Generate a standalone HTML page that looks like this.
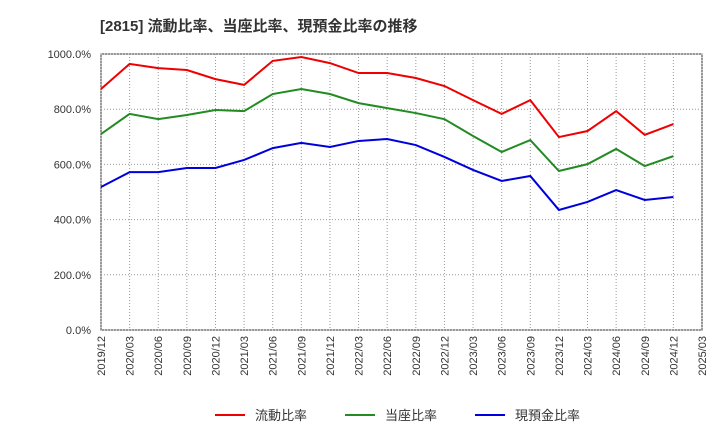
<!DOCTYPE html>
<html><head><meta charset="utf-8"><style>
body{margin:0;background:#fff;font-family:"Liberation Sans","Noto Sans CJK JP",sans-serif;}
</style></head><body>
<svg id="chart" width="720" height="440" xmlns="http://www.w3.org/2000/svg" font-family="Liberation Sans, Noto Sans CJK JP, sans-serif">
<text x="100" y="31" font-size="15" font-weight="bold" fill="#333">[2815]  流動比率、当座比率、現預金比率の推移</text>
<g id="grid"></g><g id="axes"></g><g id="series"></g><g id="legend"></g>
</svg>
<script>
const categories=["2019/12","2020/03","2020/06","2020/09","2020/12","2021/03","2021/06","2021/09","2021/12","2022/03","2022/06","2022/09","2022/12","2023/03","2023/06","2023/09","2023/12","2024/03","2024/06","2024/09","2024/12","2025/03"];
const currentRatio=[873,964,949,942,909,888,975,989,967,931,931,913,884,833,783,833,699,721,793,707,746];
const quickRatio=[710,783,764,779,797,793,855,873,855,822,804,786,764,703,645,688,576,601,656,594,630];
const cashRatio=[518,572,572,587,587,616,659,678,663,685,692,670,627,580,540,558,435,464,507,471,482];
const yTicks=[0,200,400,600,800,1000];
const yTickLabels=["0.0%","200.0%","400.0%","600.0%","800.0%","1000.0%"];
const seriesNames=["流動比率","当座比率","現預金比率"];
const L=101,R=702,T=54,B=330,NS="http://www.w3.org/2000/svg";
const x=i=>L+i*(R-L)/(categories.length-1);
const y=v=>B-(v/1000)*(B-T);
function mk(tag,attrs,parent){const e=document.createElementNS(NS,tag);for(const k in attrs)e.setAttribute(k,attrs[k]);document.getElementById(parent).appendChild(e);return e;}
mk('rect',{x:L,y:T,width:R-L,height:B-T,fill:'#fff',stroke:'#333'},'grid');
categories.forEach((c,i)=>{
 const g=mk('line',{x1:x(i),x2:x(i),y1:T,y2:B,stroke:'#999','stroke-dasharray':'1,2'},'grid');
 
 
 const t=mk('text',{x:0,y:0,'font-size':11,fill:'#333','text-anchor':'end',transform:`translate(${x(i)+4},${B+6}) rotate(-90)`},'axes');
 t.textContent=c;
 
 
});
yTicks.forEach((v,i)=>{
 const g=mk('line',{x1:L,x2:R,y1:y(v),y2:y(v),stroke:'#999','stroke-dasharray':'1,2'},'grid');
 
 
 const t=mk('text',{x:L-10,y:y(v)+4,'font-size':11,fill:'#333','text-anchor':'end'},'axes');
 t.textContent=yTickLabels[i];
 
 
});
const colors=['#e00','#228b22','#00d'];
[currentRatio,quickRatio,cashRatio].forEach((s,k)=>{
 const p=mk('polyline',{points:s.map((v,i)=>x(i)+','+y(v)).join(' '),fill:'none',stroke:colors[k],'stroke-width':2},'series');
 
 
 const lx=[215,345,475][k];
 const ll=mk('line',{x1:lx,x2:lx+30,y1:415,y2:415,stroke:colors[k],'stroke-width':2},'legend');
 
 
 const lt=mk('text',{x:lx+40,y:420,'font-size':13,fill:'#333'},'legend');
 lt.textContent=seriesNames[k];
 
 
});
</script>
</body></html>
